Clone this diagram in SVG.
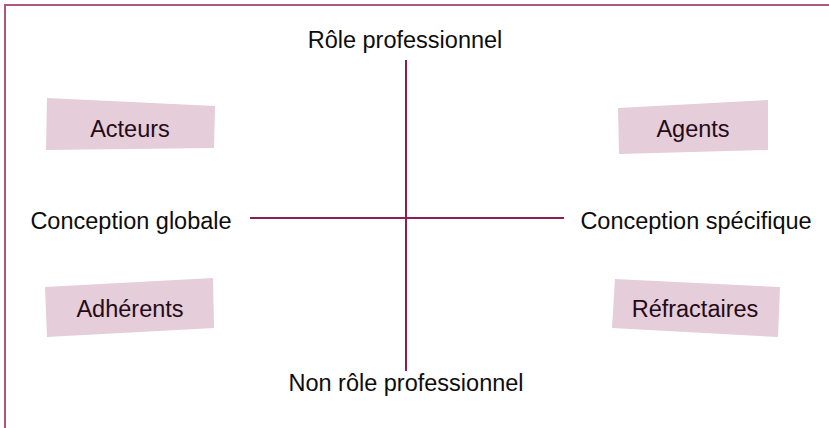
<svg xmlns="http://www.w3.org/2000/svg" width="829" height="428" viewBox="0 0 829 428">
<style>
.lbl{font-family:"Liberation Sans",Arial,sans-serif;font-size:23.5px;fill:#0d0d0d;text-anchor:middle}
.box{fill:#e5cdd9}
.btxt{font-family:"Liberation Sans",Arial,sans-serif;font-size:23.5px;fill:#230b17;text-anchor:middle}
.axis{stroke:#8e1d55;stroke-width:2;fill:none}
.frame{stroke:#b0567f;stroke-width:2;fill:none}
</style>
<rect width="829" height="428" fill="#ffffff"/>
<path class="frame" d="M5,428 V5 H829"/>
<g id="connectors">
<line class="axis" x1="406" y1="60" x2="406" y2="371"/>
<line class="axis" x1="250" y1="218" x2="564" y2="218"/>
</g>
<g id="n-role"><text class="lbl" x="405" y="48">Rôle professionnel</text></g>
<g id="n-nonrole"><text class="lbl" x="406" y="391">Non rôle professionnel</text></g>
<g id="n-globale"><text class="lbl" x="131" y="229">Conception globale</text></g>
<g id="n-specifique"><text class="lbl" x="696" y="229">Conception spécifique</text></g>
<g id="n-acteurs"><polygon class="box" points="47,98 215,106 214,148 46,150"/><text class="btxt" x="130" y="137">Acteurs</text></g>
<g id="n-agents"><polygon class="box" points="618,108 768,100 768,150 619,154"/><text class="btxt" x="693" y="137">Agents</text></g>
<g id="n-adherents"><polygon class="box" points="45,287 213,278 214,328 47,337"/><text class="btxt" x="130" y="317">Adhérents</text></g>
<g id="n-refractaires"><polygon class="box" points="615,279 780,287 778,337 612,328"/><text class="btxt" x="695" y="317">Réfractaires</text></g>
</svg>
